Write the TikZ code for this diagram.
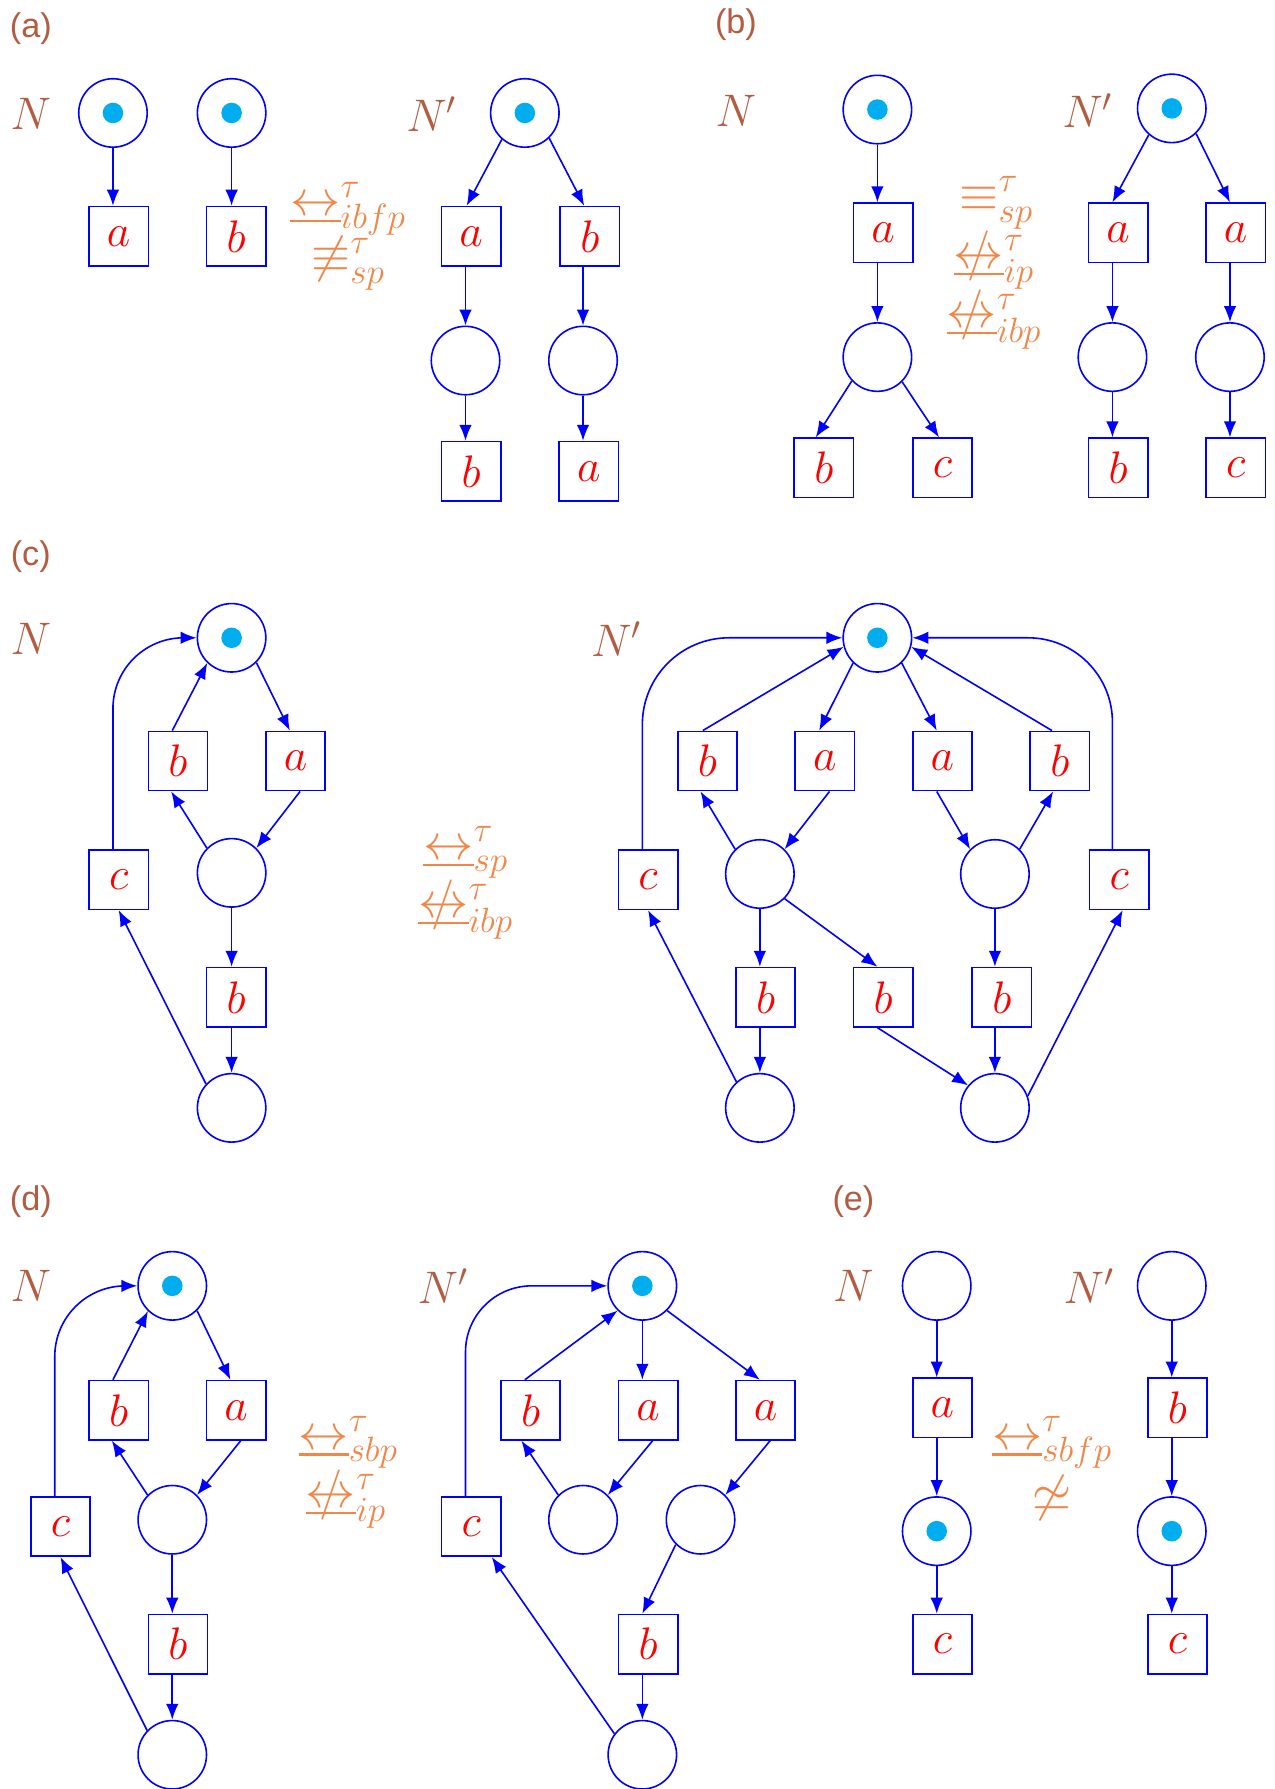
\documentclass[tikz,border=0pt]{standalone}
\usepackage{fix-cm}
\usepackage{fontspec}
\setsansfont{Liberation Sans}
\usetikzlibrary{arrows.meta}
\definecolor{labbrown}{RGB}{178,92,66}
\definecolor{relorange}{RGB}{242,134,72}
\definecolor{tokcyan}{RGB}{0,174,239}
\newcommand{\mybis}{\mathrel{\ooalign{$\leftrightarrow$\cr\rule[-0.13em]{1em}{0.045em}\cr}}}
\newcommand{\mynbis}{\mathrel{\ooalign{$\leftrightarrow$\cr\rule[-0.13em]{1em}{0.045em}\cr\hidewidth$/$\hidewidth\cr}}}
\tikzset{
 pl/.style={circle, draw=blue, line width=1.4pt, minimum size=60pt, inner sep=0pt},
 tr/.style={rectangle, draw=blue, line width=1.4pt, minimum size=52pt, inner sep=0pt, text=red, font=\fontsize{40}{40}\selectfont},
 arr/.style={draw=blue, line width=1.4pt, -{Latex[length=14pt,width=11pt]}},
 tok/.style={circle, fill=tokcyan, minimum size=18pt, inner sep=0pt},
 lbl/.style={text=labbrown, font=\sffamily\fontsize{30}{30}\selectfont},
 nlbl/.style={text=labbrown, font=\fontsize{40}{40}\selectfont},
 rel/.style={text=relorange, font=\fontsize{44}{44}\selectfont, inner sep=0pt},
}
\begin{document}
\begin{tikzpicture}[x=1pt,y=-1pt]
\useasboundingbox (0,0) rectangle (1117,1568);
% ================= (a)
\node[lbl] (la) at (27,25) {(a)};
\node[nlbl] (aN) at (27,100) {$N$};
\node[pl] (a1) at (99,99) {}; \node[tok] (a1t) at (a1) {};
\node[pl] (a2) at (203,99) {}; \node[tok] (a2t) at (a2) {};
\node[tr] (a3) at (104,207) {$a$};
\node[tr] (a4) at (207,207) {$b$};
\draw[arr] (a1.south) -- (a1.south |- a3.north);
\draw[arr] (a2.south) -- (a2.south |- a4.north);
\node[rel] (ar1) at (305,183) {$\mybis^{\tau}_{ibfp}$};
\node[rel] (ar2) at (305,231) {$\not\equiv^{\tau}_{sp}$};
\node[nlbl] (aN2) at (378,100) {$N'$};
\node[pl] (b1) at (460,99) {}; \node[tok] (b1t) at (b1) {};
\node[tr] (b2) at (413,207) {$a$};
\node[tr] (b3) at (517,207) {$b$};
\node[pl] (b4) at (408,316) {};
\node[pl] (b5) at (511,316) {};
\node[tr] (b6) at (413,413) {$b$};
\node[tr] (b7) at (516,413) {$a$};
\draw[arr] (b1.229) -- ([xshift=-4pt]b2.north);
\draw[arr] (b1.314) -- ([xshift=-5pt]b3.north);
\draw[arr] (b4.north |- b2.south) -- (b4.north);
\draw[arr] (b5.north |- b3.south) -- (b5.north);
\draw[arr] (b4.south) -- (b4.south |- b6.north);
\draw[arr] (b5.south) -- (b5.south |- b7.north);
% ================= (b)
\node[lbl] (lb) at (645,22) {(b)};
\node[nlbl] (bN) at (645,97) {$N$};
\node[pl] (c1) at (769,96) {}; \node[tok] (c1t) at (c1) {};
\node[tr] (c2) at (774,204) {$a$};
\node[pl] (c3) at (769,313) {};
\node[tr] (c4) at (722,410) {$b$};
\node[tr] (c5) at (826,410) {$c$};
\draw[arr] (c1.south) -- (c1.south |- c2.north);
\draw[arr] (c3.north |- c2.south) -- (c3.north);
\draw[arr] (c3.223) -- ([xshift=-7pt]c4.north);
\draw[arr] (c3.315) -- ([xshift=-3pt]c5.north);
\node[rel] (br1) at (873,178) {$\equiv^{\tau}_{sp}$};
\node[rel] (br2) at (871,230) {$\mynbis^{\tau}_{ip}$};
\node[rel] (br3) at (871,282) {$\mynbis^{\tau}_{ibp}$};
\node[nlbl] (bN2) at (953,97) {$N'$};
\node[pl] (d1) at (1027,95) {}; \node[tok] (d1t) at (d1) {};
\node[tr] (d2) at (980,204) {$a$};
\node[tr] (d3) at (1083,204) {$a$};
\node[pl] (d4) at (975,313) {};
\node[pl] (d5) at (1078,313) {};
\node[tr] (d6) at (980,410) {$b$};
\node[tr] (d7) at (1083,410) {$c$};
\draw[arr] (d1.229) -- ([xshift=-5pt]d2.north);
\draw[arr] (d1.314) -- ([xshift=-5pt]d3.north);
\draw[arr] (d4.north |- d2.south) -- (d4.north);
\draw[arr] (d5.north |- d3.south) -- (d5.north);
\draw[arr] (d4.south) -- (d4.south |- d6.north);
\draw[arr] (d5.south) -- (d5.south |- d7.north);
% ================= (c)
\node[lbl] (lc) at (27,488) {(c)};
\node[nlbl] (cN) at (27,560) {$N$};
\node[pl] (e1) at (203,559) {}; \node[tok] (e1t) at (e1) {};
\node[tr] (e2) at (156,667) {$b$};
\node[tr] (e3) at (259,667) {$a$};
\node[pl] (e4) at (203,765) {};
\node[tr] (e5) at (104,771) {$c$};
\node[tr] (e6) at (207,874) {$b$};
\node[pl] (e7) at (203,971) {};
\coordinate (ek) at (99,600);
\draw[arr] ([xshift=-5pt]e2.north) -- (e1.226);
\draw[arr] (e1.315) -- ([xshift=-5pt]e3.north);
\draw[arr] ([xshift=4pt]e3.south) -- (e4.45);
\draw[arr] (e4.135) -- ([xshift=-6pt]e2.south);
\draw[arr] (e4.south) -- (e4.south |- e6.north);
\draw[arr] (e7.north |- e6.south) -- (e7.north);
\draw[arr] (e7.137) -- (e5.south);
\draw[arr, rounded corners=62pt] (e5.north -| ek) -- (ek |- e1.west) -- (e1.west);
\node[rel] (cr1) at (408,747) {$\mybis^{\tau}_{sp}$};
\node[rel] (cr2) at (408,799) {$\mynbis^{\tau}_{ibp}$};
\node[nlbl] (cN2) at (540,560) {$N'$};
\node[pl] (f1) at (769,559) {}; \node[tok] (f1t) at (f1) {};
\node[tr] (f2) at (620,667) {$b$};
\node[tr] (f3) at (723,667) {$a$};
\node[tr] (f4) at (826,667) {$a$};
\node[tr] (f5) at (929,667) {$b$};
\node[pl] (f6) at (666,766) {};
\node[pl] (f7) at (872,766) {};
\node[tr] (f8) at (568,771) {$c$};
\node[tr] (f9) at (981,771) {$c$};
\node[tr] (f10) at (671,874) {$b$};
\node[tr] (f11) at (774,874) {$b$};
\node[tr] (f12) at (878,874) {$b$};
\node[pl] (f13) at (666,971) {};
\node[pl] (f14) at (872,971) {};
\coordinate (fk1) at (563,600);
\coordinate (fk2) at (975,600);
\draw[arr] ([xshift=-4pt]f2.north) -- (f1.195);
\draw[arr] (f1.226) -- ([xshift=-5pt]f3.north);
\draw[arr] (f1.314) -- ([xshift=-5pt]f4.north);
\draw[arr] ([xshift=-7pt]f5.north) -- (f1.345);
\draw[arr] (f6.135) -- ([xshift=-6pt]f2.south);
\draw[arr] ([xshift=4pt]f3.south) -- (f6.45);
\draw[arr] ([xshift=-5pt]f4.south) -- (f7.135);
\draw[arr] (f7.45) -- ([xshift=-6pt]f5.south);
\draw[arr] (f6.south) -- (f6.south |- f10.north);
\draw[arr] (f6.315) -- ([xshift=-5pt]f11.north);
\draw[arr] (f7.south) -- (f7.south |- f12.north);
\draw[arr] (f13.north |- f10.south) -- (f13.north);
\draw[arr] ([xshift=-5pt]f11.south) -- (f14.140);
\draw[arr] (f14.north |- f12.south) -- (f14.north);
\draw[arr] (f13.132) -- (f8.south);
\draw[arr] (f14.20) -- ([xshift=3pt]f9.south);
\draw[arr, rounded corners=76pt] (f8.north -| fk1) -- (fk1 |- f1.west) -- (f1.west);
\draw[arr, rounded corners=74pt] (f9.north -| fk2) -- (fk2 |- f1.east) -- (f1.east);
% ================= (d)
\node[lbl] (ld) at (27,1053) {(d)};
\node[nlbl] (dN) at (27,1127) {$N$};
\node[pl] (g1) at (151,1127) {}; \node[tok] (g1t) at (g1) {};
\node[tr] (g2) at (104,1236) {$b$};
\node[tr] (g3) at (207,1236) {$a$};
\node[pl] (g4) at (151,1332) {};
\node[tr] (g5) at (53,1338) {$c$};
\node[tr] (g6) at (156,1441) {$b$};
\node[pl] (g7) at (151,1538) {};
\coordinate (gk) at (48,1180);
\draw[arr] ([xshift=-5pt]g2.north) -- (g1.226);
\draw[arr] (g1.315) -- ([xshift=-5pt]g3.north);
\draw[arr] ([xshift=4pt]g3.south) -- (g4.45);
\draw[arr] (g4.135) -- ([xshift=-6pt]g2.south);
\draw[arr] (g4.south) -- (g4.south |- g6.north);
\draw[arr] (g7.north |- g6.south) -- (g7.north);
\draw[arr] (g7.136) -- (g5.south);
\draw[arr, rounded corners=62pt] (g5.north -| gk) -- (gk |- g1.west) -- (g1.west);
\node[rel] (dr1) at (305,1264) {$\mybis^{\tau}_{sbp}$};
\node[rel] (dr2) at (303,1316) {$\mynbis^{\tau}_{ip}$};
\node[nlbl] (dN2) at (388,1127) {$N'$};
\node[pl] (h1) at (563,1127) {}; \node[tok] (h1t) at (h1) {};
\node[tr] (h2) at (465,1236) {$b$};
\node[tr] (h3) at (568,1236) {$a$};
\node[tr] (h4) at (671,1236) {$a$};
\node[pl] (h5) at (511,1332) {};
\node[pl] (h6) at (614,1332) {};
\node[tr] (h7) at (413,1338) {$c$};
\node[tr] (h8) at (568,1441) {$b$};
\node[pl] (h9) at (563,1538) {};
\coordinate (hk) at (408,1180);
\draw[arr] ([xshift=-5pt]h2.north) -- (h1.225);
\draw[arr] (h1.south) -- (h1.south |- h3.north);
\draw[arr] (h1.315) -- ([xshift=-5pt]h4.north);
\draw[arr] (h5.135) -- ([xshift=-8pt]h2.south);
\draw[arr] ([xshift=4pt]h3.south) -- (h5.45);
\draw[arr] ([xshift=4pt]h4.south) -- (h6.45);
\draw[arr] (h6.225) -- ([xshift=-5pt]h8.north);
\draw[arr] (h9.north |- h8.south) -- (h9.north);
\draw[arr] (h9.143) -- ([xshift=18pt]h7.south);
\draw[arr, rounded corners=58pt] (h7.north -| hk) -- (hk |- h1.west) -- (h1.west);
% ================= (e)
\node[lbl] (le) at (748,1053) {(e)};
\node[nlbl] (eN) at (748,1127) {$N$};
\node[pl] (i1) at (821,1127) {};
\node[tr] (i2) at (826,1234) {$a$};
\node[pl] (i3) at (821,1342) {}; \node[tok] (i3t) at (i3) {};
\node[tr] (i4) at (826,1441) {$c$};
\draw[arr] (i1.south) -- (i1.south |- i2.north);
\draw[arr] (i3.north |- i2.south) -- (i3.north);
\draw[arr] (i3.south) -- (i3.south |- i4.north);
\node[rel] (er1) at (922,1264) {$\mybis^{\tau}_{sbfp}$};
\node[rel] (er2) at (922,1313) {$\not\simeq$};
\node[nlbl] (eN2) at (954,1127) {$N'$};
\node[pl] (j1) at (1027,1127) {};
\node[tr] (j2) at (1032,1234) {$b$};
\node[pl] (j3) at (1027,1342) {}; \node[tok] (j3t) at (j3) {};
\node[tr] (j4) at (1032,1441) {$c$};
\draw[arr] (j1.south) -- (j1.south |- j2.north);
\draw[arr] (j3.north |- j2.south) -- (j3.north);
\draw[arr] (j3.south) -- (j3.south |- j4.north);
\end{tikzpicture}
\end{document}
